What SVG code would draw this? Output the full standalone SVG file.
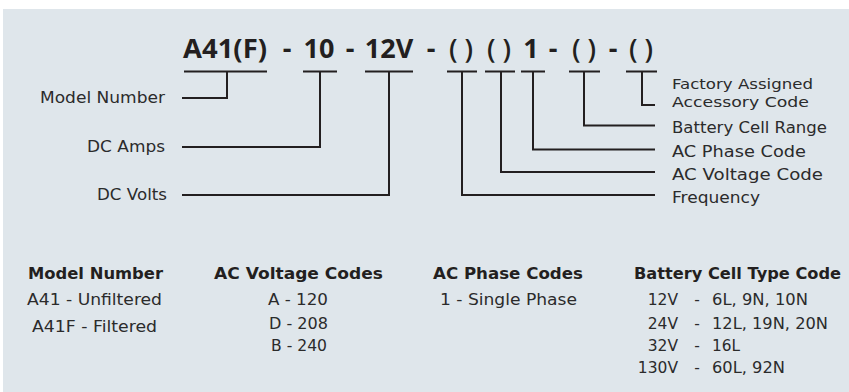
<svg xmlns="http://www.w3.org/2000/svg" width="849" height="392" viewBox="0 0 849 392">
<style>
.bg{fill:#dfe6eb}
.t{font-family:"Open Sans","Liberation Sans",sans-serif;font-weight:700;font-size:27px;fill:#231f20;text-anchor:middle}
.p{font-weight:600}
.l{font-family:"DejaVu Sans","Liberation Sans",sans-serif;font-size:15.5px;fill:#2b2b2b}
.s{font-size:14.4px}
.r{text-anchor:end}
.m{text-anchor:middle}
.h{font-family:"DejaVu Sans","Liberation Sans",sans-serif;font-weight:700;font-size:15.5px;fill:#231f20;text-anchor:middle}
.c{fill:none;stroke:#231f20;stroke-width:2;stroke-linejoin:miter;stroke-linecap:butt}
</style>
<rect x="0" y="0" width="849" height="392" fill="#ffffff"/>
<rect class="bg" x="3" y="9" width="846" height="383"/>

<g id="title">
<text class="t" x="225" y="58" textLength="84" lengthAdjust="spacingAndGlyphs">A41(F)</text>
<text class="t" x="287" y="58">-</text>
<text class="t" x="319" y="58">10</text>
<text class="t" x="350" y="58">-</text>
<text class="t" x="389" y="58">12V</text>
<text class="t" x="431" y="58">-</text>
<text class="t p" x="461" y="58">( )</text>
<text class="t p" x="499" y="58">( )</text>
<text class="t" x="531" y="58">1</text>
<text class="t" x="553" y="58">-</text>
<text class="t p" x="584" y="58">( )</text>
<text class="t" x="613" y="58">-</text>
<text class="t p" x="641" y="58">( )</text>
</g>

<g id="connectors">
<path class="c" d="M184 71.5H267M227 71.5V98H182"/>
<path class="c" d="M303 71.5H337M320 71.5V147H182"/>
<path class="c" d="M365 71.5H413M389 71.5V195H182"/>
<path class="c" d="M447 71.5H477M462 71.5V195H655"/>
<path class="c" d="M485 71.5H515M501 71.5V172H655"/>
<path class="c" d="M521 71.5H545M533 71.5V149.5H655"/>
<path class="c" d="M569 71.5H600M584 71.5V125.5H655"/>
<path class="c" d="M626 71.5H657M642 71.5V105H655"/>
</g>

<g id="label-model-number"><text class="l" x="40" y="103" textLength="125" lengthAdjust="spacingAndGlyphs">Model Number</text></g>
<g id="label-dc-amps"><text class="l" x="87" y="152" textLength="78" lengthAdjust="spacingAndGlyphs">DC Amps</text></g>
<g id="label-dc-volts"><text class="l" x="97" y="200" textLength="70" lengthAdjust="spacingAndGlyphs">DC Volts</text></g>

<g id="label-factory">
<text class="l s" x="672" y="89" textLength="141" lengthAdjust="spacingAndGlyphs">Factory Assigned</text>
<text class="l s" x="672" y="106.5" textLength="137" lengthAdjust="spacingAndGlyphs">Accessory Code</text>
</g>
<g id="label-battery"><text class="l" x="672" y="132.5" textLength="155" lengthAdjust="spacingAndGlyphs">Battery Cell Range</text></g>
<g id="label-ac-phase"><text class="l" x="672" y="156.5" textLength="134" lengthAdjust="spacingAndGlyphs">AC Phase Code</text></g>
<g id="label-ac-voltage"><text class="l" x="672" y="180" textLength="151" lengthAdjust="spacingAndGlyphs">AC Voltage Code</text></g>
<g id="label-frequency"><text class="l" x="672" y="203" textLength="88" lengthAdjust="spacingAndGlyphs">Frequency</text></g>

<g id="legend-model">
<text class="h" x="95.5" y="279" textLength="135" lengthAdjust="spacingAndGlyphs">Model Number</text>
<text class="l m" x="94.5" y="305" textLength="135" lengthAdjust="spacingAndGlyphs">A41 - Unfiltered</text>
<text class="l m" x="94.5" y="332" textLength="125" lengthAdjust="spacingAndGlyphs">A41F - Filtered</text>
</g>
<g id="legend-ac-voltage">
<text class="h" x="298.5" y="279" textLength="169" lengthAdjust="spacingAndGlyphs">AC Voltage Codes</text>
<text class="l m" x="298" y="305" textLength="60" lengthAdjust="spacingAndGlyphs">A - 120</text>
<text class="l m" x="298.5" y="328.5" textLength="59" lengthAdjust="spacingAndGlyphs">D - 208</text>
<text class="l m" x="299" y="351" textLength="56" lengthAdjust="spacingAndGlyphs">B - 240</text>
</g>
<g id="legend-ac-phase">
<text class="h" x="508" y="279" textLength="150" lengthAdjust="spacingAndGlyphs">AC Phase Codes</text>
<text class="l" x="440" y="305" textLength="137" lengthAdjust="spacingAndGlyphs">1 - Single Phase</text>
</g>
<g id="legend-battery">
<text class="h" x="737.5" y="279" textLength="207" lengthAdjust="spacingAndGlyphs">Battery Cell Type Code</text>
<text class="l r" x="678" y="305">12V</text><text class="l m" x="697" y="305">-</text><text class="l" x="712" y="305" textLength="96" lengthAdjust="spacingAndGlyphs">6L, 9N, 10N</text>
<text class="l r" x="678" y="328.5">24V</text><text class="l m" x="697" y="328.5">-</text><text class="l" x="712" y="328.5" textLength="116" lengthAdjust="spacingAndGlyphs">12L, 19N, 20N</text>
<text class="l r" x="678" y="351">32V</text><text class="l m" x="697" y="351">-</text><text class="l" x="712" y="351" textLength="28" lengthAdjust="spacingAndGlyphs">16L</text>
<text class="l r" x="678" y="373">130V</text><text class="l m" x="697" y="373">-</text><text class="l" x="712" y="373" textLength="73" lengthAdjust="spacingAndGlyphs">60L, 92N</text>
</g>
</svg>
